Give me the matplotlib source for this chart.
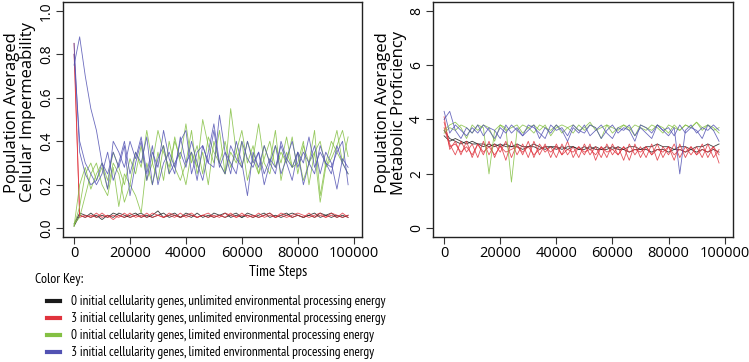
import matplotlib

matplotlib.use("Agg")

import matplotlib.pyplot as plt
import numpy as np

# time steps sampled every 2000
steps = np.arange(0, 100000, 2000)

labels = [
    "0 initial cellularity genes, unlimited environmental processing energy",
    "3 initial cellularity genes, unlimited environmental processing energy",
    "0 initial cellularity genes, limited environmental processing energy",
    "3 initial cellularity genes, limited environmental processing energy",
]
colors = ["#1a1a1a", "#e0333d", "#84c043", "#5252b3"]

# left panel: population averaged cellular impermeability
imp_black = [
    [0.01, 0.06, 0.05, 0.07, 0.05, 0.06, 0.05, 0.07, 0.06, 0.05, 0.06, 0.07, 0.05, 0.06, 0.05, 0.06, 0.07,
     0.05, 0.06, 0.05, 0.07, 0.06, 0.05, 0.06, 0.05, 0.07, 0.06, 0.05, 0.06, 0.07, 0.05, 0.06, 0.05, 0.06,
     0.07, 0.05, 0.06, 0.05, 0.06, 0.07, 0.06, 0.05, 0.06, 0.05, 0.07, 0.06, 0.05, 0.06, 0.05, 0.06],
    [0.02, 0.07, 0.06, 0.05, 0.06, 0.04, 0.06, 0.05, 0.07, 0.06, 0.05, 0.06, 0.07, 0.05, 0.06, 0.08, 0.05,
     0.06, 0.07, 0.05, 0.06, 0.05, 0.07, 0.05, 0.06, 0.05, 0.06, 0.07, 0.05, 0.06, 0.05, 0.07, 0.06, 0.05,
     0.06, 0.07, 0.05, 0.06, 0.07, 0.05, 0.06, 0.05, 0.06, 0.07, 0.05, 0.06, 0.07, 0.05, 0.06, 0.05],
]
imp_red = [
    [0.85, 0.05, 0.06, 0.05, 0.07, 0.05, 0.06, 0.04, 0.06, 0.05, 0.07, 0.05, 0.06, 0.05, 0.07, 0.06, 0.05,
     0.06, 0.05, 0.07, 0.05, 0.06, 0.05, 0.06, 0.07, 0.05, 0.06, 0.05, 0.07, 0.05, 0.06, 0.06, 0.05, 0.07,
     0.05, 0.06, 0.05, 0.07, 0.06, 0.05, 0.06, 0.05, 0.07, 0.05, 0.06, 0.05, 0.07, 0.06, 0.05, 0.06],
    [0.80, 0.06, 0.05, 0.06, 0.05, 0.07, 0.05, 0.06, 0.05, 0.07, 0.05, 0.06, 0.05, 0.07, 0.05, 0.06, 0.05,
     0.07, 0.06, 0.05, 0.06, 0.07, 0.05, 0.06, 0.05, 0.06, 0.05, 0.07, 0.06, 0.05, 0.07, 0.05, 0.06, 0.05,
     0.06, 0.07, 0.05, 0.06, 0.05, 0.06, 0.07, 0.06, 0.05, 0.06, 0.07, 0.05, 0.06, 0.05, 0.07, 0.05],
]
imp_green = [
    [0.01, 0.10, 0.25, 0.30, 0.22, 0.28, 0.18, 0.30, 0.25, 0.12, 0.20, 0.35, 0.28, 0.45, 0.30, 0.22, 0.38,
     0.25, 0.42, 0.30, 0.20, 0.35, 0.28, 0.50, 0.38, 0.30, 0.45, 0.25, 0.35, 0.30, 0.40, 0.22, 0.32, 0.48,
     0.30, 0.25, 0.38, 0.30, 0.42, 0.28, 0.35, 0.22, 0.30, 0.45, 0.15, 0.30, 0.40, 0.35, 0.30, 0.42],
    [0.02, 0.05, 0.15, 0.25, 0.30, 0.20, 0.15, 0.28, 0.10, 0.25, 0.20, 0.15, 0.07, 0.30, 0.20, 0.35, 0.22,
     0.40, 0.28, 0.22, 0.30, 0.45, 0.25, 0.35, 0.20, 0.40, 0.30, 0.25, 0.55, 0.35, 0.28, 0.40, 0.32, 0.25,
     0.38, 0.30, 0.45, 0.22, 0.35, 0.28, 0.30, 0.40, 0.20, 0.35, 0.12, 0.28, 0.35, 0.45, 0.30, 0.25],
    [0.01, 0.20, 0.28, 0.18, 0.25, 0.30, 0.22, 0.35, 0.28, 0.20, 0.32, 0.25, 0.38, 0.22, 0.30, 0.45, 0.35,
     0.28, 0.40, 0.32, 0.48, 0.30, 0.38, 0.25, 0.42, 0.35, 0.30, 0.40, 0.28, 0.35, 0.45, 0.30, 0.38, 0.25,
     0.32, 0.40, 0.28, 0.35, 0.30, 0.42, 0.25, 0.38, 0.30, 0.35, 0.40, 0.28, 0.32, 0.38, 0.45, 0.33],
]
imp_blue = [
    [0.85, 0.35, 0.25, 0.20, 0.22, 0.30, 0.18, 0.40, 0.35, 0.28, 0.40, 0.32, 0.42, 0.25, 0.38, 0.20, 0.30,
     0.35, 0.28, 0.40, 0.45, 0.25, 0.35, 0.38, 0.30, 0.28, 0.52, 0.35, 0.30, 0.25, 0.40, 0.32, 0.28, 0.35,
     0.20, 0.30, 0.38, 0.25, 0.32, 0.40, 0.28, 0.35, 0.30, 0.25, 0.38, 0.30, 0.28, 0.35, 0.40, 0.20],
    [0.75, 0.88, 0.70, 0.55, 0.45, 0.30, 0.25, 0.35, 0.28, 0.38, 0.15, 0.30, 0.40, 0.22, 0.35, 0.28, 0.45,
     0.32, 0.25, 0.42, 0.30, 0.35, 0.22, 0.38, 0.30, 0.45, 0.28, 0.35, 0.25, 0.40, 0.30, 0.15, 0.35, 0.28,
     0.38, 0.30, 0.25, 0.40, 0.32, 0.28, 0.35, 0.20, 0.30, 0.38, 0.25, 0.35, 0.30, 0.18, 0.32, 0.28],
    [0.80, 0.40, 0.30, 0.25, 0.20, 0.25, 0.35, 0.22, 0.30, 0.40, 0.25, 0.35, 0.30, 0.42, 0.20, 0.32, 0.38,
     0.25, 0.30, 0.35, 0.28, 0.40, 0.30, 0.22, 0.35, 0.48, 0.30, 0.25, 0.38, 0.32, 0.28, 0.40, 0.30, 0.35,
     0.25, 0.32, 0.28, 0.38, 0.30, 0.22, 0.35, 0.30, 0.42, 0.28, 0.35, 0.30, 0.25, 0.38, 0.30, 0.25],
]

# right panel: population averaged metabolic proficiency
met_black = [
    [3.6, 3.3, 3.2, 3.1, 3.2, 3.1, 3.1, 3.0, 3.1, 3.0, 3.1, 3.0, 3.0, 3.1, 3.0, 3.0, 3.0, 2.9, 3.0, 3.0,
     2.9, 3.0, 2.9, 3.0, 2.9, 2.9, 3.0, 2.9, 2.9, 2.9, 3.0, 2.9, 2.9, 2.8, 2.9, 2.9, 2.9, 2.8, 2.9, 2.9,
     2.8, 2.9, 2.9, 2.8, 2.9, 2.8, 2.9, 2.8, 2.9, 2.8],
    [3.4, 3.2, 3.3, 3.2, 3.1, 3.2, 3.1, 3.1, 3.0, 3.1, 3.0, 3.1, 3.0, 3.0, 2.9, 3.0, 3.1, 3.0, 2.9, 3.0,
     3.0, 2.9, 3.0, 3.0, 2.9, 3.0, 2.9, 3.0, 2.9, 3.0, 2.9, 3.0, 2.9, 3.0, 3.0, 2.9, 3.0, 3.0, 3.1, 3.0,
     3.0, 2.9, 3.0, 3.0, 2.9, 3.0, 3.0, 3.1, 3.0, 3.1],
]
met_red = [
    [4.1, 2.9, 3.2, 2.7, 3.2, 2.6, 3.1, 2.7, 3.2, 2.6, 3.1, 2.5, 3.2, 2.7, 3.1, 2.6, 3.2, 2.7, 3.1, 2.6,
     3.1, 2.7, 3.2, 2.6, 3.0, 2.7, 3.1, 2.5, 3.0, 2.6, 3.1, 2.7, 3.0, 2.5, 3.1, 2.6, 3.0, 2.7, 3.1, 2.6,
     3.0, 2.5, 3.1, 2.6, 3.0, 2.7, 3.1, 2.6, 3.0, 2.4],
    [3.9, 3.1, 2.7, 3.2, 2.8, 3.1, 2.6, 3.2, 2.7, 3.1, 2.8, 3.2, 2.6, 3.1, 2.7, 3.2, 2.6, 3.1, 2.8, 3.0,
     2.6, 3.1, 2.7, 3.0, 2.6, 3.1, 2.7, 3.0, 2.6, 3.1, 2.7, 3.0, 2.5, 3.1, 2.7, 3.0, 2.6, 3.1, 2.5, 3.0,
     2.7, 3.1, 2.6, 3.0, 2.7, 3.0, 2.6, 3.1, 2.6, 2.9],
    [3.7, 3.0, 3.1, 2.8, 3.0, 2.7, 3.1, 2.8, 3.0, 2.7, 3.0, 2.8, 2.9, 3.0, 2.8, 3.0, 2.7, 2.9, 3.0, 2.8,
     3.0, 2.7, 2.9, 2.8, 3.0, 2.8, 2.9, 2.7, 3.0, 2.8, 2.9, 2.7, 3.0, 2.8, 2.9, 2.8, 3.0, 2.7, 2.9, 2.8,
     3.0, 2.7, 2.9, 2.8, 3.0, 2.7, 2.9, 2.8, 3.0, 2.7],
]
met_green = [
    [3.5, 3.7, 3.6, 3.8, 3.7, 3.5, 3.8, 3.7, 2.0, 3.6, 3.8, 3.7, 1.7, 3.6, 3.8, 3.7, 3.5, 3.8, 3.7, 3.6,
     3.8, 3.5, 3.7, 3.8, 3.6, 3.7, 3.9, 3.6, 3.7, 3.8, 3.5, 3.7, 3.8, 3.6, 3.8, 3.7, 3.6, 3.8, 3.7, 3.5,
     3.8, 3.7, 3.6, 3.8, 3.7, 3.9, 3.6, 3.8, 3.7, 3.5],
    [3.6, 3.8, 3.9, 3.7, 3.3, 3.8, 3.6, 3.8, 3.7, 3.2, 3.8, 3.6, 3.7, 3.8, 3.5, 3.7, 3.8, 3.6, 3.8, 3.4,
     3.7, 3.8, 3.7, 3.5, 3.8, 3.6, 3.8, 3.7, 3.3, 3.8, 3.7, 3.6, 3.8, 3.7, 3.4, 3.8, 3.7, 3.6, 3.8, 3.7,
     3.5, 3.8, 3.6, 3.8, 3.7, 3.9, 3.7, 3.8, 3.6, 3.7],
]
met_blue = [
    [4.3, 3.5, 3.8, 3.6, 3.4, 3.7, 3.5, 3.8, 3.6, 3.3, 3.7, 3.5, 3.8, 3.6, 3.4, 3.8, 3.7, 3.5, 3.3, 3.8,
     3.6, 3.7, 3.4, 3.8, 3.6, 3.5, 3.8, 3.7, 3.3, 3.6, 3.8, 3.5, 3.7, 3.6, 3.2, 3.8, 3.7, 3.5, 3.8, 3.6,
     3.4, 3.7, 2.0, 3.6, 3.8, 3.5, 3.7, 3.6, 3.8, 3.6],
    [4.0, 4.3, 3.6, 3.3, 3.7, 3.5, 3.8, 3.4, 3.7, 3.6, 3.3, 3.8, 3.5, 3.7, 3.4, 3.6, 3.8, 3.3, 3.7, 3.5,
     3.8, 3.6, 3.2, 3.7, 3.5, 3.8, 3.4, 3.6, 3.8, 3.5, 3.3, 3.7, 3.6, 3.8, 3.4, 3.7, 3.5, 3.3, 3.8, 3.6,
     3.7, 3.4, 3.8, 3.5, 3.7, 3.6, 3.3, 3.8, 3.6, 3.2],
]

plt.rcParams["font.family"] = ["Open Sans", "DejaVu Sans"]
narrow = ["PT Sans Narrow", "Liberation Sans Narrow", "Open Sans", "DejaVu Sans"]

fig = plt.figure(figsize=(7.49, 3.62), dpi=100)
ax1 = fig.add_axes([0.0841, 0.3453, 0.3992, 0.6492])
ax2 = fig.add_axes([0.5781, 0.3453, 0.4005, 0.6492])

panels = [
    (ax1, [imp_black, imp_red, imp_green, imp_blue], (-0.04, 1.04), [0.0, 0.2, 0.4, 0.6, 0.8, 1.0],
     "Population Averaged\nCellular Impermeability", "{:.1f}", -0.09),
    (ax2, [met_black, met_red, met_green, met_blue], (-0.32, 8.32), [0, 2, 4, 6, 8],
     "Population Averaged\nMetabolic Proficiency", "{:d}", -0.085),
]

for ax, groups, ylim, yticks, ylabel, fmt, labx in panels:
    for reps, col in zip(groups, colors):
        for vals in reps:
            ax.plot(steps, vals, color=col, lw=0.6, alpha=0.85)
    ax.set_xlim(-3960, 102960)
    ax.set_ylim(*ylim)
    ax.set_xticks([0, 20000, 40000, 60000, 80000, 100000])
    ax.set_xticklabels(["0", "20000", "40000", "60000", "80000", "100000"], fontsize=10.5)
    ax.set_yticks(yticks)
    ax.set_yticklabels([fmt.format(t) for t in yticks], fontsize=10, rotation=90, va="center")
    ax.tick_params(direction="out", length=5, width=0.8, color="#333333", pad=1.5)
    ax.set_ylabel(ylabel, fontsize=12, linespacing=1.0)
    ax.yaxis.set_label_coords(labx, 0.53)
    for sp in ax.spines.values():
        sp.set_linewidth(1.0)
        sp.set_color("#222222")

fig.text(0.371, 0.249, "Time Steps", fontsize=11, ha="center", va="center", family=narrow)
fig.text(0.047, 0.229, "Color Key:", fontsize=10, ha="left", va="center", family=narrow)

handles = [plt.Line2D([], [], color=c, lw=3) for c in colors]
fig.legend(handles, labels, loc="upper left", bbox_to_anchor=(0.0628, 0.184), frameon=False,
           prop={"family": narrow, "size": 9.5}, handlelength=1.0, handletextpad=0.8,
           labelspacing=0.3, borderpad=0, borderaxespad=0)

fig.savefig("out.png", dpi=100)
